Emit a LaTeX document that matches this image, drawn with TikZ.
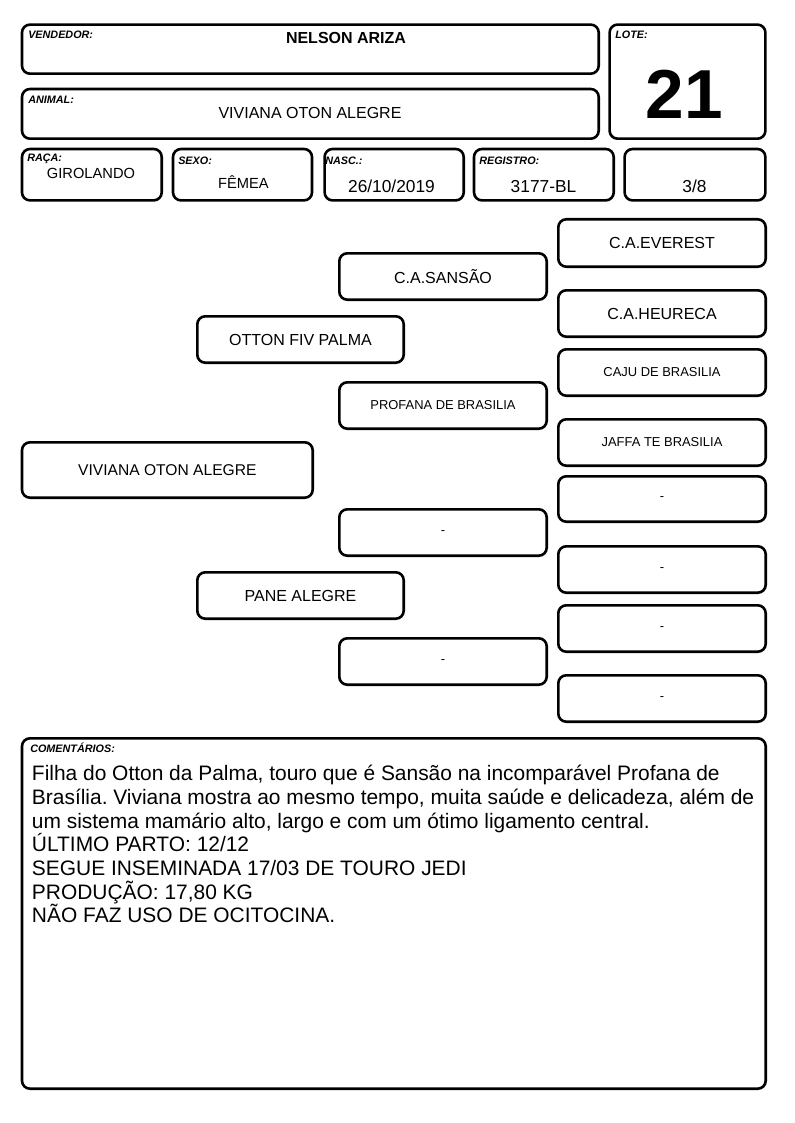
\documentclass[tikz,border=0pt]{standalone}
\usepackage{fontspec}
\setmainfont{Liberation Sans}
\frenchspacing
\newcommand\mybox[6]{%
  \pgfmathsetmacro\bw{(#4-#2-2.6)*0.75}%
  \pgfmathsetmacro\bh{(#5-#3-2.6)*0.75}%
  \node[pbox,minimum width=\bw pt,minimum height=\bh pt] (#1) at ({(#2+#4)/2},{(#3+#5)/2}) {#6};}
\begin{document}
\begin{tikzpicture}[x=0.75pt,y=-0.75pt,
  pbox/.style={draw=black,line width=1.95pt,rounded corners=6pt,inner sep=0pt,outer sep=0pt,align=center},
  lab/.style={anchor=base west,inner sep=0pt,font=\fontsize{8.1}{9}\selectfont\bfseries\itshape},
  val/.style={anchor=base,inner sep=0pt,font=\fontsize{11}{13}\selectfont},
  bigval/.style={anchor=base,inner sep=0pt,font=\fontsize{13}{15}\selectfont},
  cline/.style={anchor=base west,inner sep=0pt,font=\fontsize{15.7}{17.8}\selectfont}]
\useasboundingbox (0,0) rectangle (794,1123);
% header boxes
\mybox{vend}{20.7}{23.3}{600}{75}{}
\mybox{lote}{608.3}{23.3}{766.7}{140}{}
\mybox{anim}{20.7}{87.7}{600}{140}{}
\mybox{raca}{20.7}{147.7}{163}{201.7}{}
\mybox{sexo}{171.7}{147.7}{313.3}{201.7}{}
\mybox{nasc}{323.3}{147.7}{465}{201.7}{}
\mybox{reg}{472.7}{147.7}{615}{201.7}{}
\mybox{frac}{623.3}{147.7}{766.7}{201.7}{}
% header labels
\node[lab] (lvend) at (28,39) {VENDEDOR:};
\node[lab] (llote) at (615,39) {LOTE:};
\node[lab] (lanim) at (28,103.3) {ANIMAL:};
\node[lab] (lraca) at (27,162) {RAÇA:};
\node[lab] (lsexo) at (178,165) {SEXO:};
\node[lab] (lnasc) at (325,165) {NASC.:};
\node[lab] (lreg) at (479,165) {REGISTRO:};
% header values
\node[anchor=base,inner sep=0pt,font=\fontsize{12}{14}\selectfont\bfseries] (tvend) at (346,43.3) {NELSON ARIZA};
\node[anchor=base,inner sep=0pt,font=\fontsize{52}{56}\selectfont\bfseries] (tlote) at (684,119) {21};
\node[anchor=base,inner sep=0pt,font=\fontsize{12}{14}\selectfont] (tanim) at (310,119) {VIVIANA OTON ALEGRE};
\node[val] (traca) at (91,178.3) {GIROLANDO};
\node[val] (tsexo) at (243.5,189) {FÊMEA};
\node[bigval] (tnasc) at (391.5,192.7) {26/10/2019};
\node[bigval] (treg) at (543.5,192.3) {3177-BL};
\node[bigval] (tfrac) at (694.5,192.3) {3/8};
% pedigree
\mybox{main}{20.7}{441}{314}{499}{\fontsize{11.7}{14}\selectfont VIVIANA OTON ALEGRE}
\mybox{sire}{196}{315}{405}{364}{\fontsize{12}{14}\selectfont OTTON FIV PALMA}
\mybox{dam}{196}{571}{405}{620}{\fontsize{12}{14}\selectfont PANE ALEGRE}
\mybox{ss}{338}{252}{548}{301}{\fontsize{12}{14}\selectfont C.A.SANSÃO}
\mybox{sd}{338}{381}{548}{430}{\fontsize{9.7}{11}\selectfont PROFANA DE BRASILIA}
\mybox{ds}{338}{508}{548}{557}{\fontsize{9.7}{11}\selectfont -}
\mybox{dd}{338}{637}{548}{686}{\fontsize{9.7}{11}\selectfont -}
\mybox{sss}{557}{218}{767}{268}{\fontsize{12}{14}\selectfont C.A.EVEREST}
\mybox{ssd}{557}{289}{767}{338}{\fontsize{12}{14}\selectfont C.A.HEURECA}
\mybox{sds}{557}{348}{767}{397}{\fontsize{9.7}{11}\selectfont CAJU DE BRASILIA}
\mybox{sdd}{557}{418}{767}{467}{\fontsize{9.7}{11}\selectfont JAFFA TE BRASILIA}
\mybox{dss}{557}{475}{767}{523}{\fontsize{9.7}{11}\selectfont -}
\mybox{dsd}{557}{545}{767}{594}{\fontsize{9.7}{11}\selectfont -}
\mybox{dds}{557}{604}{767}{653}{\fontsize{9.7}{11}\selectfont -}
\mybox{ddd}{557}{674}{767}{723}{\fontsize{9.7}{11}\selectfont -}
% comments
\mybox{com}{20.7}{737}{767}{1090}{}
\node[lab] (lcom) at (30,752.3) {COMENTÁRIOS:};
\node[cline] (c1) at (31.7,780.7) {Filha do Otton da Palma, touro que é Sansão na incomparável Profana de};
\node[cline] (c2) at (31.7,804.4) {Brasília. Viviana mostra ao mesmo tempo, muita saúde e delicadeza, além de};
\node[cline] (c3) at (31.7,828.1) {um sistema mamário alto, largo e com um ótimo ligamento central.};
\node[cline] (c4) at (31.7,851.8) {ÚLTIMO PARTO: 12/12};
\node[cline] (c5) at (31.7,875.5) {SEGUE INSEMINADA 17/03 DE TOURO JEDI};
\node[cline] (c6) at (31.7,899.2) {PRODUÇÃO: 17,80 KG};
\node[cline] (c7) at (31.7,922.9) {NÃO FAZ USO DE OCITOCINA.};
\end{tikzpicture}
\end{document}
